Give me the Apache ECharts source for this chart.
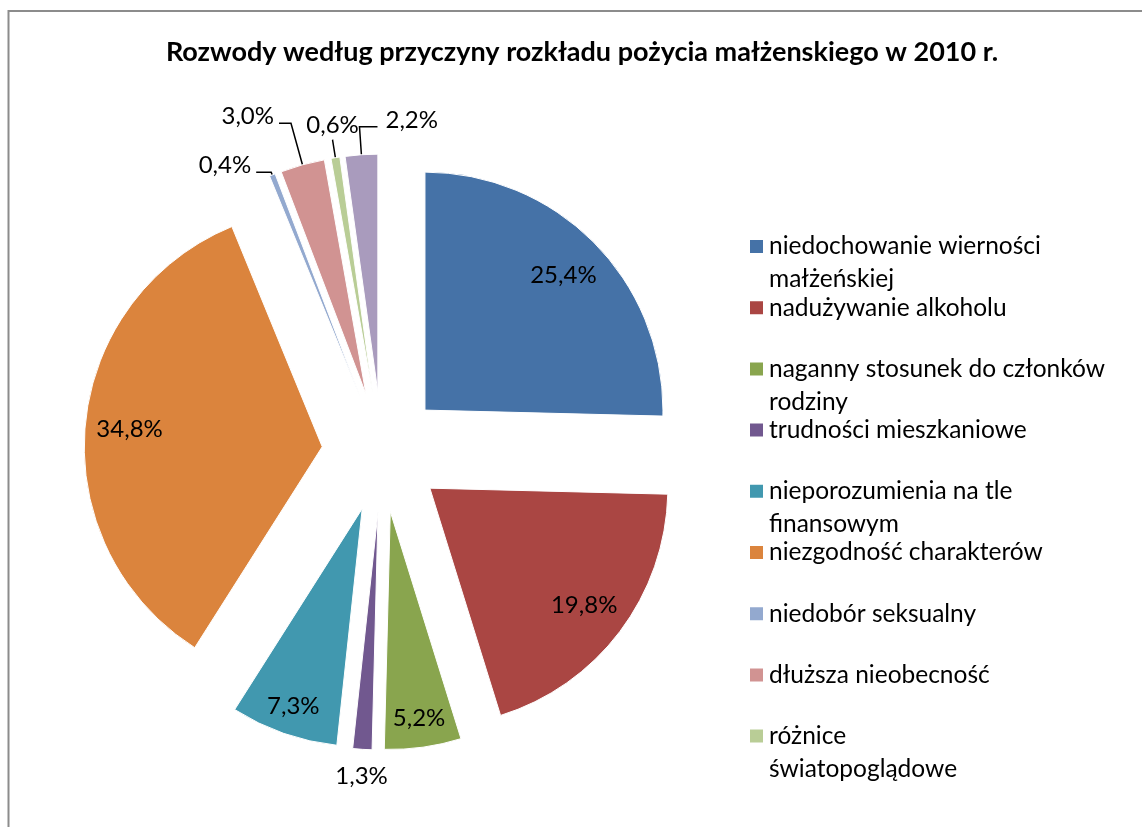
<!DOCTYPE html>
<html><head><meta charset="utf-8">
<script src="https://cdn.jsdelivr.net/npm/echarts@6/dist/echarts.min.js"></script>
<style>html,body{margin:0;padding:0;background:#fff}#c{width:1142px;height:827px}</style>
</head><body><div id="c"></div>
<script>
const chartTitle = 'Rozwody według przyczyny rozkładu pożycia małżenskiego w 2010 r.';
const categories = [
  'niedochowanie wierności małżeńskiej',
  'nadużywanie alkoholu',
  'naganny stosunek do członków rodziny',
  'trudności mieszkaniowe',
  'nieporozumienia na tle finansowym',
  'niezgodność charakterów',
  'niedobór seksualny',
  'dłuższa nieobecność',
  'różnice światopoglądowe',
  'inne'
];
const values = [25.4, 19.8, 5.2, 1.3, 7.3, 34.8, 0.4, 3.0, 0.6, 2.2];
const legendNames = categories.slice(0, 9);
const legendWrapped = {
  'niedochowanie wierności małżeńskiej': 'niedochowanie wierności\nmałżeńskiej',
  'naganny stosunek do członków rodziny': 'naganny stosunek do członków\nrodziny',
  'nieporozumienia na tle finansowym': 'nieporozumienia na tle\nfinansowym',
  'różnice światopoglądowe': 'różnice\nświatopoglądowe'
};

// styling (not data)
const colors = ['#4572A7','#AA4643','#89A54E','#71588F','#4198AF','#DB843D','#93A9CF','#D19392','#B9CD96','#A99BBD'];
const placement = ['inWide','inWide','inNarrow','below','inNarrow','inWide','left','left','above','right'];
// [length, length2, distanceToLabelLine] of outside label leader lines
const lineCfg = { 3: [12, 0.01, 0], 6: [3, 15, 5], 7: [43, 12, 5], 8: [18, 0.01, 0], 9: [28, -18, -8] };

const FONT = 'Lato';
const CENTER = [382, 452];
const R = 238;
const OFFSET = 60;
const fmt = v => v.toFixed(1).replace('.', ',') + '%';

function labelSeries(mode, ratio) {
  return {
    type: 'pie', center: CENTER, radius: 2 * ratio * R, startAngle: 90, clockwise: true,
    silent: true, selectedMode: 'multiple', selectedOffset: OFFSET, avoidLabelOverlap: false,
    itemStyle: { color: 'rgba(0,0,0,0)' },
    labelLine: { show: false },
    label: { position: 'inside', fontFamily: FONT, fontSize: 24, color: '#000',
             formatter: p => fmt(p.value) },
    emphasis: { disabled: true },
    data: categories.map((n, i) => ({ name: n, value: values[i], selected: true,
      label: { show: placement[i] === mode } }))
  };
}

const chart = echarts.init(document.getElementById('c'));
chart.setOption({
  animation: false,
  backgroundColor: '#fff',
  title: {
    text: chartTitle, left: 582, top: 39, padding: 0, textAlign: 'center',
    textStyle: { fontFamily: FONT, fontSize: 27, fontWeight: 'bold', color: '#000' }
  },
  graphic: [{
    type: 'rect', shape: { x: 8.5, y: 11, width: 1300, height: 1000 }, silent: true,
    style: { fill: 'none', stroke: '#8c8c8c', lineWidth: 2 }
  }],
  legend: {
    data: legendNames, orient: 'vertical', left: 748, top: 197, padding: 0,
    itemWidth: 15, itemHeight: 15, itemGap: -37.8, icon: 'rect', selectedMode: false,
    textStyle: { fontFamily: FONT, fontSize: 24.5, lineHeight: 33, color: '#000' },
    formatter: n => '\n' + (legendWrapped[n] || n) + (legendWrapped[n] ? '' : '\n')
  },
  series: [{
    type: 'pie', center: CENTER, radius: R, startAngle: 90, clockwise: true,
    selectedMode: 'multiple', selectedOffset: OFFSET, avoidLabelOverlap: false,
    itemStyle: { borderColor: '#fff', borderWidth: 1 },
    emphasis: { disabled: true },
    label: { position: 'outside', fontFamily: FONT, fontSize: 24, color: '#000',
             formatter: p => fmt(p.value) },
    labelLine: { show: true, minTurnAngle: 0, maxSurfaceAngle: 180,
                 lineStyle: { color: '#000', width: 1.5 } },
    labelLayout: function (p) {
      const mode = placement[p.dataIndex];
      if (mode === 'above') return { align: 'center', verticalAlign: 'bottom' };
      if (mode === 'below') return { align: 'center', verticalAlign: 'top' };
      if (mode === 'right') return { align: 'left', verticalAlign: 'bottom' };
      if (mode === 'left') return { align: 'right', verticalAlign: 'bottom' };
    },
    data: categories.map((n, i) => {
      const out = !placement[i].startsWith('in');
      const side = placement[i] === 'left' || placement[i] === 'right';
      const c = lineCfg[i] || [10, 10, 5];
      return {
        name: n, value: values[i], selected: true,
        itemStyle: { color: colors[i] },
        label: { show: out, distanceToLabelLine: c[2], lineHeight: side ? 14 : 29 },
        labelLine: { show: out, length: c[0], length2: c[1],
                     lineStyle: { opacity: placement[i] === 'below' ? 0 : 1 } }
      };
    })
  },
  labelSeries('inWide', 0.80),
  labelSeries('inNarrow', 0.865)
  ]
});
</script>
</body></html>
